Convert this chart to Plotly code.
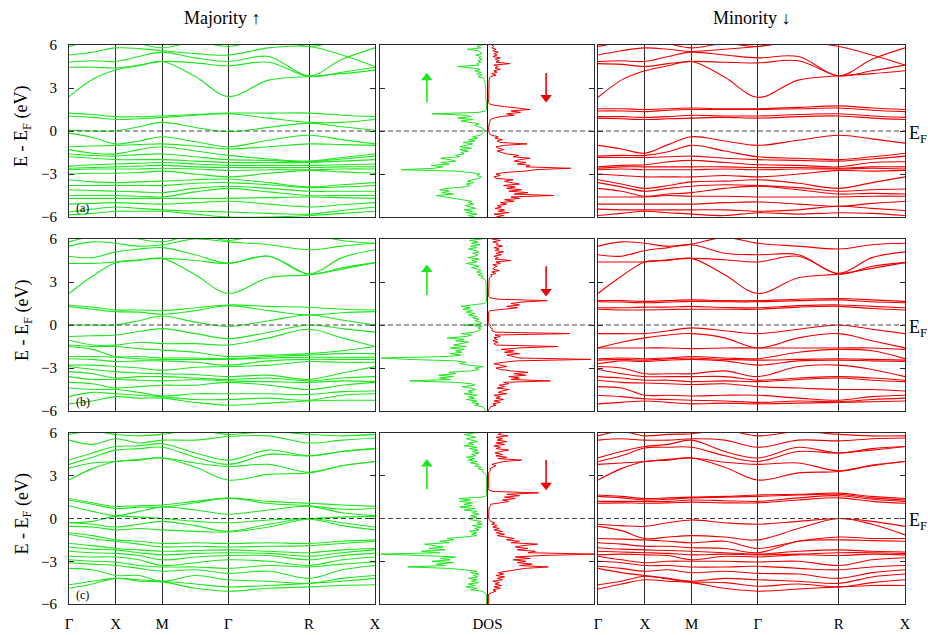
import numpy as np
import plotly.graph_objects as go

# ---------------- data ----------------
k_pos = [0.0, 0.25, 0.5, 0.75, 1.0, 1.354, 1.707, 2.140, 2.573, 2.927, 3.280]
k_sym_pos = [0.0, 0.5, 1.0, 1.707, 2.573, 3.280]
k_sym_labels = ["Γ", "X", "M", "Γ", "R", "X"]
energy_ticks = [-6, -3, 0, 3, 6]
dos_energy = np.round(np.arange(-6.0, 6.0001, 0.1), 1)

# bands: values at [Γ, ½, X, ½, M, ½, Γ, ½, R, ½, X]
maj_a = [
    [2.40, 3.60, 4.25, 4.55, 4.85, 3.80, 2.40, 3.55, 3.80, 4.00, 4.25],
    [4.45, 4.45, 4.40, 4.60, 4.85, 4.75, 4.55, 4.80, 3.80, 4.10, 4.45],
    [4.80, 4.90, 4.85, 5.20, 5.50, 5.10, 4.85, 5.20, 3.85, 5.00, 5.80],
    [5.30, 5.50, 5.80, 5.75, 5.60, 5.40, 5.30, 5.80, 5.90, 5.30, 4.50],
    [5.90, 6.30, 6.50, 6.10, 5.80, 6.20, 5.90, 6.40, 5.90, 6.30, 6.50],
    [1.25, 1.15, 1.00, 1.00, 1.05, 1.15, 1.25, 1.25, 1.25, 1.10, 1.00],
    [1.05, 0.95, 0.80, 0.85, 0.95, 1.10, 1.20, 0.90, 0.60, 0.60, 0.80],
    [0.05, 0.00, 0.00, 0.30, 0.60, 0.25, -0.05, 0.25, 0.55, 0.30, 0.05],
    [-0.15, -0.45, -0.90, -0.70, -0.40, -0.75, -1.10, -0.65, -0.30, -0.60, -0.90],
    [-1.10, -1.05, -1.00, -0.95, -0.90, -1.05, -1.25, -1.10, -0.90, -0.95, -1.00],
    [-1.30, -1.55, -1.60, -1.30, -1.10, -1.40, -1.70, -1.95, -2.10, -1.85, -1.60],
    [-1.60, -1.70, -1.75, -1.65, -1.60, -1.80, -2.00, -2.05, -2.15, -1.95, -1.75],
    [-1.80, -1.90, -2.00, -2.00, -2.00, -2.10, -2.20, -2.20, -2.20, -2.10, -2.00],
    [-2.45, -2.35, -2.30, -2.25, -2.20, -2.30, -2.40, -2.40, -2.40, -2.35, -2.30],
    [-2.60, -2.55, -2.50, -2.45, -2.40, -2.50, -2.55, -2.55, -2.55, -2.50, -2.50],
    [-2.70, -2.65, -2.65, -2.65, -2.60, -2.65, -2.75, -2.70, -2.70, -2.65, -2.65],
    [-3.00, -2.95, -2.95, -2.90, -2.80, -3.00, -3.20, -2.95, -2.75, -2.85, -2.95],
    [-3.40, -3.55, -3.60, -3.55, -3.50, -3.40, -3.35, -3.60, -3.90, -3.75, -3.60],
    [-3.80, -3.80, -3.80, -3.80, -3.80, -3.65, -3.60, -3.75, -3.95, -3.90, -3.80],
    [-4.10, -4.15, -4.20, -4.25, -4.30, -4.00, -3.85, -4.00, -4.20, -4.20, -4.20],
    [-4.50, -4.50, -4.50, -4.55, -4.60, -4.25, -4.00, -4.25, -4.50, -4.50, -4.50],
    [-4.70, -4.70, -4.70, -4.70, -4.70, -4.70, -4.70, -4.65, -4.60, -4.65, -4.70],
    [-5.10, -5.05, -5.00, -5.05, -5.10, -5.00, -4.90, -5.10, -5.30, -5.15, -5.00],
    [-5.65, -5.45, -5.30, -5.40, -5.50, -5.60, -5.65, -5.75, -5.80, -5.55, -5.30],
    [-5.85, -5.75, -5.60, -5.60, -5.60, -5.80, -6.00, -6.00, -5.90, -5.75, -5.60],
]

min_a = [
    [2.35, 3.55, 4.20, 4.55, 4.85, 3.75, 2.35, 3.55, 3.85, 4.00, 4.20],
    [4.70, 4.65, 4.50, 4.70, 4.85, 4.80, 4.75, 4.90, 3.85, 4.20, 4.60],
    [4.85, 4.90, 4.85, 5.20, 5.50, 5.30, 5.10, 5.20, 3.85, 5.00, 5.80],
    [5.30, 5.60, 5.80, 5.70, 5.55, 5.70, 5.90, 6.20, 5.90, 5.30, 4.60],
    [5.90, 6.20, 6.50, 6.10, 5.80, 6.10, 5.90, 6.40, 6.20, 6.30, 6.50],
    [1.55, 1.55, 1.50, 1.55, 1.60, 1.55, 1.55, 1.65, 1.75, 1.60, 1.50],
    [1.40, 1.40, 1.35, 1.45, 1.50, 1.50, 1.50, 1.55, 1.60, 1.45, 1.35],
    [1.00, 1.00, 0.95, 1.00, 1.10, 1.05, 1.05, 1.15, 1.20, 1.05, 0.95],
    [0.90, 0.85, 0.80, 0.85, 0.90, 0.95, 0.90, 1.00, 1.05, 0.90, 0.80],
    [-1.00, -1.25, -1.55, -0.95, -0.40, -0.70, -1.00, -0.65, -0.30, -0.55, -0.85],
    [-1.75, -1.70, -1.70, -1.45, -1.00, -1.40, -1.80, -1.90, -2.00, -1.80, -1.55],
    [-1.85, -1.85, -1.85, -1.80, -1.75, -1.90, -2.00, -2.05, -2.10, -1.95, -1.75],
    [-2.50, -2.40, -2.35, -2.15, -2.05, -2.20, -2.35, -2.40, -2.50, -2.20, -2.15],
    [-2.60, -2.50, -2.50, -2.50, -2.50, -2.50, -2.55, -2.55, -2.60, -2.50, -2.50],
    [-2.70, -2.65, -2.70, -2.70, -2.70, -2.65, -2.70, -2.65, -2.65, -2.60, -2.65],
    [-3.00, -3.10, -3.20, -3.20, -3.20, -3.10, -3.20, -3.00, -2.75, -2.80, -2.75],
    [-3.40, -3.70, -4.00, -3.80, -3.55, -3.50, -3.40, -3.65, -4.00, -3.60, -3.20],
    [-3.60, -3.90, -4.20, -4.00, -3.85, -3.75, -3.80, -3.95, -4.20, -4.10, -4.05],
    [-4.00, -4.20, -4.55, -4.40, -4.30, -4.00, -3.85, -4.10, -4.40, -4.35, -4.40],
    [-4.60, -4.60, -4.60, -4.50, -4.55, -4.55, -4.60, -4.60, -4.60, -4.55, -4.55],
    [-5.10, -5.10, -5.10, -5.10, -5.10, -5.00, -4.95, -5.10, -5.25, -5.05, -4.90],
    [-5.45, -5.50, -5.50, -5.50, -5.50, -5.50, -5.60, -5.50, -5.25, -5.40, -5.55],
    [-5.90, -5.75, -5.60, -5.70, -5.80, -5.90, -5.70, -5.80, -5.70, -5.75, -5.90],
]

maj_b = [
    [2.20, 3.40, 4.35, 4.50, 4.65, 3.50, 2.20, 3.30, 3.50, 3.90, 4.35],
    [4.30, 4.30, 4.40, 4.55, 4.65, 4.50, 4.30, 4.80, 3.55, 4.00, 4.35],
    [4.80, 4.70, 5.10, 5.30, 5.40, 4.90, 4.30, 4.80, 3.55, 4.70, 5.25],
    [5.50, 5.80, 5.70, 5.50, 5.60, 6.00, 5.80, 5.60, 5.25, 5.50, 5.70],
    [5.80, 6.20, 6.40, 6.00, 5.80, 6.30, 5.90, 6.40, 6.30, 5.90, 5.70],
    [1.40, 1.25, 1.05, 1.05, 1.00, 1.20, 1.40, 1.30, 1.24, 1.10, 1.05],
    [1.30, 1.10, 0.93, 0.90, 0.75, 1.00, 1.35, 1.00, 0.70, 0.85, 0.93],
    [0.00, 0.00, 0.00, 0.30, 0.63, 0.20, -0.10, 0.30, 0.70, 0.35, 0.00],
    [-0.80, -0.75, -0.70, -0.45, -0.25, -0.60, -0.95, -0.50, 0.00, -0.25, -0.50],
    [-1.05, -1.40, -1.40, -1.20, -1.30, -1.30, -1.40, -0.90, -0.30, -0.90, -1.50],
    [-1.40, -1.50, -1.50, -1.65, -1.75, -1.90, -2.20, -2.10, -2.00, -1.80, -1.50],
    [-1.50, -1.70, -2.20, -2.20, -2.30, -2.30, -2.35, -2.20, -2.10, -2.00, -2.00],
    [-2.20, -2.20, -2.25, -2.35, -2.40, -2.40, -2.40, -2.30, -2.25, -2.25, -2.25],
    [-2.35, -2.40, -2.55, -2.50, -2.50, -2.60, -2.80, -2.50, -2.40, -2.40, -2.40],
    [-2.80, -2.80, -2.90, -3.00, -3.15, -2.95, -2.90, -2.80, -2.55, -2.60, -2.60],
    [-2.90, -3.10, -3.25, -3.35, -3.40, -3.45, -3.60, -3.50, -3.80, -3.35, -2.90],
    [-3.25, -3.40, -3.70, -3.60, -3.60, -3.70, -3.80, -3.70, -3.90, -3.70, -3.60],
    [-3.60, -3.80, -3.80, -3.85, -3.90, -3.80, -3.90, -3.95, -4.00, -3.90, -3.95],
    [-4.00, -4.10, -4.40, -4.30, -4.20, -4.20, -4.00, -4.20, -4.50, -4.20, -4.00],
    [-4.40, -4.50, -4.50, -4.70, -4.95, -4.80, -4.80, -4.80, -4.85, -4.65, -4.60],
    [-5.00, -4.70, -4.80, -4.90, -5.00, -5.20, -5.20, -5.10, -5.25, -4.90, -4.80],
    [-5.50, -5.30, -5.00, -5.10, -5.10, -5.40, -5.60, -5.45, -5.30, -5.25, -5.25],
]

min_b = [
    [2.20, 3.40, 4.40, 4.50, 4.65, 3.50, 2.20, 3.30, 3.55, 3.95, 4.35],
    [4.40, 4.40, 4.40, 4.55, 4.65, 4.55, 4.40, 4.80, 3.55, 4.10, 4.35],
    [4.90, 4.80, 5.20, 5.40, 5.60, 5.00, 4.90, 4.90, 3.60, 4.70, 5.10],
    [5.50, 5.80, 5.70, 5.50, 5.65, 6.10, 5.70, 5.50, 5.30, 5.60, 5.70],
    [1.70, 1.70, 1.65, 1.70, 1.75, 1.70, 1.70, 1.80, 1.85, 1.75, 1.65],
    [1.62, 1.60, 1.55, 1.60, 1.65, 1.62, 1.62, 1.70, 1.75, 1.62, 1.55],
    [1.20, 1.20, 1.25, 1.25, 1.30, 1.22, 1.20, 1.35, 1.40, 1.30, 1.20],
    [1.10, 1.05, 1.05, 1.08, 1.10, 1.10, 1.10, 1.25, 1.30, 1.15, 1.05],
    [-0.60, -0.60, -0.60, -0.40, -0.20, -0.40, -0.60, -0.30, 0.00, -0.30, -0.60],
    [-1.60, -1.20, -0.90, -0.70, -0.60, -0.90, -1.60, -0.90, -0.60, -1.10, -1.60],
    [-1.60, -1.60, -1.60, -1.60, -1.65, -1.60, -1.60, -1.60, -1.60, -1.60, -1.70],
    [-2.35, -2.30, -2.35, -2.30, -2.20, -2.30, -2.35, -1.90, -1.70, -1.80, -2.35],
    [-2.45, -2.40, -2.45, -2.35, -2.30, -2.40, -2.45, -2.40, -2.35, -2.40, -2.45],
    [-2.70, -2.50, -2.55, -2.45, -2.40, -2.50, -2.80, -2.50, -2.45, -2.50, -2.55],
    [-2.90, -3.00, -3.40, -3.40, -3.40, -3.20, -3.60, -2.90, -2.80, -3.10, -3.60],
    [-3.10, -3.40, -3.60, -3.60, -3.60, -3.60, -3.85, -3.70, -3.60, -3.70, -3.85],
    [-3.60, -3.70, -3.85, -3.85, -3.95, -3.90, -3.95, -3.80, -3.70, -3.85, -3.95],
    [-3.85, -4.00, -4.05, -4.10, -4.15, -4.10, -4.30, -4.40, -4.50, -4.50, -4.60],
    [-4.30, -4.40, -4.90, -4.90, -4.95, -4.90, -4.90, -5.10, -5.25, -5.00, -4.90],
    [-4.90, -5.00, -5.15, -5.20, -5.25, -5.30, -5.40, -5.30, -5.35, -5.20, -5.10],
    [-5.50, -5.40, -5.30, -5.40, -5.50, -5.45, -5.50, -5.45, -5.40, -5.35, -5.30],
]

maj_c = [
    [2.70, 3.50, 4.00, 4.10, 4.25, 3.60, 2.70, 3.10, 3.20, 3.70, 4.00],
    [3.55, 3.90, 4.00, 4.15, 4.25, 3.90, 3.65, 3.80, 3.25, 3.70, 4.00],
    [3.80, 4.30, 4.80, 4.90, 5.00, 4.30, 3.80, 4.50, 4.40, 4.70, 4.90],
    [4.10, 4.60, 5.05, 5.10, 5.25, 4.60, 4.10, 4.80, 4.40, 4.70, 4.90],
    [5.50, 5.20, 5.60, 5.30, 5.50, 5.50, 5.75, 5.80, 5.30, 5.50, 5.65],
    [5.90, 6.10, 5.90, 5.80, 5.90, 6.20, 5.90, 6.10, 5.90, 5.80, 5.90],
    [1.40, 1.10, 0.85, 0.90, 0.95, 1.20, 1.43, 1.20, 1.07, 0.95, 0.85],
    [1.30, 1.00, 0.70, 0.80, 0.80, 1.10, 1.43, 1.05, 0.90, 0.65, 0.70],
    [0.90, 0.50, 0.20, 0.50, 0.80, 0.60, 0.30, 0.60, 0.85, 0.40, 0.20],
    [-0.30, -0.20, 0.15, 0.10, 0.00, -0.20, -0.30, -0.10, 0.00, 0.10, 0.15],
    [-0.30, -0.40, -0.60, -0.40, -0.20, -0.50, -0.90, -0.40, 0.00, -0.30, -0.60],
    [-0.55, -0.60, -0.80, -0.70, -0.80, -0.90, -0.95, -0.60, -0.05, -0.50, -0.80],
    [-1.00, -1.20, -1.50, -1.60, -1.75, -1.70, -1.75, -1.70, -1.75, -1.60, -1.50],
    [-1.10, -1.40, -1.60, -1.80, -2.00, -1.95, -2.00, -1.95, -1.90, -1.75, -1.60],
    [-1.75, -1.90, -2.10, -2.20, -2.30, -2.25, -2.20, -2.30, -2.40, -2.20, -2.10],
    [-2.00, -2.15, -2.20, -2.40, -2.55, -2.45, -2.40, -2.45, -2.65, -2.40, -2.20],
    [-2.30, -2.40, -2.45, -2.60, -2.90, -2.70, -2.60, -2.60, -2.90, -2.60, -2.45],
    [-2.65, -2.70, -2.70, -2.90, -3.30, -3.10, -2.90, -3.00, -3.30, -2.90, -2.70],
    [-2.90, -3.00, -3.05, -3.30, -3.40, -3.40, -3.50, -3.30, -3.40, -3.20, -3.05],
    [-3.10, -3.20, -3.30, -3.50, -3.70, -3.60, -3.85, -3.70, -4.20, -3.60, -3.30],
    [-3.50, -3.60, -4.00, -4.00, -4.40, -4.00, -4.30, -4.40, -4.55, -4.20, -4.00],
    [-4.65, -4.40, -4.20, -4.30, -4.40, -4.60, -4.80, -4.70, -4.55, -4.40, -4.20],
    [-4.90, -4.60, -4.20, -4.40, -4.45, -4.90, -5.10, -4.90, -4.80, -4.70, -4.65],
]

min_c = [
    [2.70, 3.50, 4.00, 4.10, 4.25, 3.60, 2.70, 3.20, 3.30, 3.70, 4.00],
    [3.80, 3.90, 4.00, 4.15, 4.25, 3.95, 3.80, 3.90, 3.35, 3.75, 4.00],
    [4.00, 4.40, 4.95, 5.00, 5.00, 4.40, 4.00, 4.70, 4.60, 4.80, 5.05],
    [4.25, 4.70, 5.05, 5.20, 5.50, 4.70, 4.25, 5.00, 4.60, 4.90, 5.05],
    [5.50, 5.60, 5.50, 5.50, 5.60, 5.50, 5.00, 5.50, 5.45, 5.60, 5.65],
    [5.80, 6.10, 5.80, 5.90, 5.95, 6.20, 5.80, 6.10, 5.90, 5.80, 5.80],
    [1.65, 1.55, 1.40, 1.45, 1.50, 1.55, 1.65, 1.70, 1.78, 1.55, 1.40],
    [1.55, 1.45, 1.30, 1.35, 1.45, 1.50, 1.55, 1.65, 1.70, 1.45, 1.30],
    [1.20, 1.20, 1.20, 1.20, 1.30, 1.25, 1.20, 1.45, 1.60, 1.35, 1.20],
    [1.07, 1.10, 1.07, 1.10, 1.15, 1.10, 1.10, 1.30, 1.45, 1.20, 1.07],
    [-0.40, -0.50, -0.55, -0.30, -0.10, -0.30, -0.40, -0.20, 0.00, -0.20, -0.55],
    [-0.55, -0.85, -1.40, -1.30, -1.20, -1.30, -1.50, -0.70, 0.00, -0.40, -1.15],
    [-1.40, -1.45, -1.50, -1.60, -1.70, -1.60, -2.10, -1.60, -1.30, -1.40, -1.40],
    [-1.70, -1.80, -1.95, -1.95, -2.05, -2.10, -2.40, -1.60, -1.50, -1.55, -1.60],
    [-2.05, -2.15, -2.20, -2.25, -2.30, -2.40, -2.50, -2.30, -2.20, -2.30, -2.35],
    [-2.30, -2.35, -2.40, -2.45, -2.55, -2.50, -2.55, -2.50, -2.40, -2.40, -2.45],
    [-2.55, -2.50, -2.55, -2.60, -2.90, -2.65, -2.70, -2.55, -2.60, -2.50, -2.55],
    [-2.65, -2.90, -3.10, -3.00, -3.00, -3.00, -3.05, -3.00, -3.30, -2.90, -2.75],
    [-3.00, -3.10, -3.30, -3.30, -3.40, -3.40, -3.35, -3.50, -3.60, -3.40, -3.30],
    [-3.35, -3.50, -3.70, -3.60, -3.80, -3.70, -3.85, -3.90, -4.20, -3.80, -3.60],
    [-3.50, -3.80, -4.00, -4.20, -4.40, -4.20, -4.30, -4.40, -4.55, -4.10, -3.90],
    [-4.65, -4.40, -4.05, -4.25, -4.45, -4.50, -4.75, -4.60, -4.80, -4.50, -4.30],
    [-4.95, -4.60, -4.30, -4.40, -4.50, -4.90, -5.10, -4.95, -4.80, -4.70, -4.70],
]

# DOS (arbitrary units), sampled every 0.1 eV from -6 to 6
dos_up_a = [1.2, 1.8, 1.0, 2.0, 1.4, 2.2, 1.1, 1.6, 2.1, 1.3,
            1.8, 1.5, 2.5, 3.5, 4.0, 4.8, 3.2, 4.3, 3.6, 4.5,
            3.8, 2.2, 1.6, 2.0, 1.3, 1.9, 1.2, 0.8, 0.6, 1.0,
            0.7, 1.5, 3.0, 8.1, 5.0, 4.2, 5.3, 3.6, 4.4, 3.0,
            3.5, 4.4, 2.6, 3.0, 2.2, 2.5, 1.8, 2.6, 1.5, 2.6,
            2.0, 1.4, 2.3, 1.2, 1.8, 0.9, 1.4, 0.7, 0.5, 0.4,
            0.6, 0.3, 0.5, 0.9, 1.2, 0.8, 1.6, 2.5, 1.4, 2.8,
            1.6, 2.0, 5.2, 0.8, 0.2, 0.1, 0.1, 0.1, 0.1, 0.1,
            0.1, 0.1, 0.1, 0.15, 0.2, 0.15, 0.2, 0.15, 0.2, 0.15,
            0.2, 0.2, 0.25, 0.2, 0.3, 0.25, 0.3, 0.4, 0.9, 0.5,
            1.0, 0.6, 1.2, 0.7, 1.5, 2.8, 0.8, 1.0, 0.6, 0.9,
            0.5, 0.8, 0.6, 1.1, 0.5, 0.7, 0.9, 1.9, 0.6, 1.0,
            0.5]
dos_dn_a = [0.8, 1.5, 0.6, 2.0, 1.0, 1.6, 0.7, 1.3, 0.9, 1.8,
            1.2, 2.5, 1.6, 3.0, 2.2, 6.2, 2.5, 3.8, 2.0, 3.2,
            1.8, 2.6, 1.5, 3.0, 2.2, 1.6, 2.4, 0.8, 0.6, 1.2,
            0.8, 1.5, 3.5, 4.5, 7.8, 3.6, 4.0, 2.8, 3.6, 2.5,
            3.0, 4.0, 2.4, 2.9, 1.8, 1.2, 0.9, 1.5, 1.0, 0.8,
            1.6, 3.7, 1.2, 0.9, 1.4, 0.7, 1.0, 0.4, 0.2, 0.15,
            0.1, 0.1, 0.1, 0.1, 0.1, 0.15, 0.2, 0.2, 0.25, 0.6,
            1.2, 2.5, 1.8, 3.1, 2.2, 4.0, 2.5, 1.6, 0.6, 0.15,
            0.1, 0.1, 0.1, 0.1, 0.1, 0.1, 0.1, 0.1, 0.1, 0.1,
            0.1, 0.1, 0.1, 0.1, 0.1, 0.1, 0.15, 0.2, 0.3, 0.8,
            0.4, 0.9, 0.6, 1.2, 0.7, 1.0, 0.6, 2.1, 0.8, 1.1,
            0.7, 1.2, 0.5, 0.9, 0.6, 1.0, 0.5, 0.8, 0.4, 0.6,
            0.4]
dos_up_b = [0.2, 0.3, 0.3, 0.5, 1.2, 0.8, 1.5, 1.0, 2.0, 1.2,
            1.8, 1.0, 2.2, 1.4, 1.8, 1.1, 1.6, 2.4, 1.2, 1.5,
            3.0, 7.3, 3.5, 4.5, 3.2, 4.6, 3.0, 3.6, 1.5, 0.8,
            1.2, 0.4, 1.8, 2.6, 2.0, 3.0, 7.5, 10.0, 3.8, 2.5,
            3.5, 2.4, 3.0, 2.2, 3.5, 2.0, 3.2, 2.4, 1.8, 3.0,
            2.2, 3.8, 2.0, 1.5, 2.5, 1.2, 0.8, 0.6, 0.9, 0.5,
            2.2, 0.5, 0.7, 1.2, 0.8, 1.4, 1.0, 1.8, 1.2, 2.0,
            1.4, 2.3, 1.6, 2.5, 1.5, 0.3, 0.1, 0.1, 0.1, 0.1,
            0.1, 0.1, 0.1, 0.1, 0.1, 0.1, 0.1, 0.1, 0.1, 0.1,
            0.15, 0.2, 0.3, 0.6, 0.4, 0.9, 0.5, 1.0, 0.6, 0.9,
            1.5, 0.8, 1.3, 2.0, 1.0, 1.5, 0.8, 1.8, 1.2, 0.9,
            1.4, 0.8, 1.2, 1.8, 1.0, 1.6, 0.7, 1.5, 0.9, 1.7,
            0.5]
dos_dn_b = [0.1, 0.1, 0.2, 0.3, 0.8, 0.5, 1.2, 0.6, 1.5, 0.8,
            1.2, 0.6, 1.8, 1.0, 1.4, 2.0, 0.9, 1.6, 1.1, 2.0,
            1.5, 5.9, 2.2, 3.0, 2.0, 3.6, 2.5, 3.8, 2.2, 1.2,
            0.8, 1.8, 1.2, 0.6, 1.5, 2.8, 9.7, 3.0, 2.4, 1.8,
            3.0, 1.6, 2.5, 1.3, 3.0, 6.6, 0.8, 0.6, 1.0, 0.5,
            0.9, 0.6, 1.2, 0.7, 7.7, 0.8, 0.4, 0.5, 0.3, 0.2,
            0.3, 0.1, 0.1, 0.1, 0.1, 0.1, 0.1, 0.1, 0.1, 0.1,
            0.2, 1.5, 2.8, 1.8, 3.0, 2.2, 3.2, 5.6, 1.0, 0.2,
            0.1, 0.1, 0.1, 0.1, 0.1, 0.1, 0.1, 0.1, 0.1, 0.1,
            0.1, 0.1, 0.15, 0.2, 0.4, 0.3, 0.8, 0.4, 1.1, 0.5,
            0.6, 0.9, 0.5, 1.2, 0.8, 2.2, 0.7, 1.0, 0.6, 1.3,
            0.8, 1.5, 0.7, 1.1, 0.6, 1.4, 0.8, 1.0, 0.5, 1.2,
            0.4]
dos_up_c = [0.1, 0.1, 0.1, 0.1, 0.1, 0.1, 0.1, 0.1, 0.3, 0.5,
            1.6, 1.0, 2.0, 1.2, 1.8, 0.8, 1.5, 1.0, 1.8, 0.9,
            1.3, 0.8, 1.6, 1.0, 2.2, 3.6, 7.5, 4.0, 4.8, 3.2,
            5.2, 3.5, 4.4, 3.0, 6.0, 10.0, 4.5, 6.2, 4.0, 5.5,
            4.2, 5.0, 5.9, 3.6, 4.5, 3.2, 3.8, 2.2, 1.0, 1.5,
            1.0, 1.7, 0.8, 1.2, 0.6, 1.4, 0.5, 1.0, 0.6, 1.5,
            1.8, 1.0, 1.6, 0.8, 1.4, 1.0, 2.2, 1.2, 2.6, 1.5,
            2.2, 1.4, 2.6, 1.6, 2.7, 0.5, 0.1, 0.1, 0.1, 0.1,
            0.1, 0.1, 0.1, 0.1, 0.1, 0.1, 0.1, 0.1, 0.1, 0.1,
            0.1, 0.2, 0.3, 0.5, 0.4, 0.9, 0.6, 1.2, 0.8, 1.6,
            1.0, 1.8, 1.2, 2.0, 1.1, 1.5, 0.8, 1.4, 0.9, 1.7,
            1.0, 2.2, 1.3, 1.8, 0.9, 1.5, 2.0, 1.1, 1.6, 2.2,
            1.2]
dos_dn_c = [0.1, 0.1, 0.1, 0.1, 0.1, 0.1, 0.1, 0.1, 0.4, 0.8,
            0.5, 1.2, 0.6, 1.3, 0.7, 1.1, 0.5, 1.4, 0.9, 1.6,
            0.8, 1.5, 1.0, 2.0, 2.6, 3.5, 5.7, 3.0, 4.2, 2.8,
            3.6, 2.4, 4.0, 2.6, 5.0, 10.0, 3.8, 4.5, 2.8, 3.8,
            2.6, 3.3, 4.7, 2.2, 3.0, 1.8, 2.5, 1.5, 0.9, 1.6,
            0.8, 1.4, 0.6, 1.1, 0.5, 0.9, 0.4, 0.7, 0.3, 0.2,
            0.1, 0.1, 0.1, 0.1, 0.1, 0.1, 0.1, 0.1, 0.15, 0.3,
            0.3, 1.2, 2.0, 1.4, 2.6, 1.6, 3.0, 1.8, 4.8, 0.5,
            0.1, 0.1, 0.1, 0.1, 0.1, 0.1, 0.1, 0.1, 0.1, 0.1,
            0.1, 0.1, 0.1, 0.2, 0.3, 0.2, 0.5, 0.8, 0.4, 1.0,
            1.5, 3.2, 1.0, 1.8, 0.8, 1.4, 0.7, 1.2, 2.0, 0.8,
            1.2, 0.6, 1.6, 0.8, 1.8, 0.9, 1.4, 0.8, 1.9, 1.0,
            1.3]

panel_labels = ["(a)", "(b)", "(c)"]

# ---------------- styling / layout ----------------
GREEN = "#1ee61e"
RED = "#f00000"
FRAME = "#2a2a2a"
FONT = "Liberation Serif, Times New Roman, DejaVu Serif, serif"
W, H = 928, 635

col_px = [(69, 375), (380, 594), (598, 905)]
row_px = [(45, 217), (239, 411), (433, 604)]
arrow_tip_tail = [(4.05, 2.0), (4.2, 2.1), (4.15, 2.05)]   # green (up) arrow: tip, tail [eV]
arrow_red = [(4.05, 2.0), (4.1, 2.0), (4.1, 2.0)]           # red (down) arrow: tail, tip [eV]

fig = go.Figure()
layout = dict(template="none", width=W, height=H, margin=dict(l=0, r=0, t=0, b=0, autoexpand=False),
              paper_bgcolor="white", plot_bgcolor="white",
              font=dict(family=FONT, size=16, color="black"), showlegend=False)
annotations = []
shapes = []

band_sets = [(maj_a, min_a), (maj_b, min_b), (maj_c, min_c)]
dos_sets = [(dos_up_a, dos_dn_a), (dos_up_b, dos_dn_b), (dos_up_c, dos_dn_c)]

for r in range(3):
    y0p, y1p = row_px[r]
    ydom = [1 - y1p / H, 1 - y0p / H]
    for c in range(3):
        n = 3 * r + c + 1
        sfx = "" if n == 1 else str(n)
        x0p, x1p = col_px[c]
        xdom = [x0p / W, x1p / W]
        xa = dict(domain=xdom, anchor="y" + sfx, showline=True, mirror=True,
                  linecolor=FRAME, linewidth=1, zeroline=False, fixedrange=True,
                  automargin=False, ticklabelstandoff=6,
                  tickfont=dict(family=FONT, size=15, color="black"))
        ya = dict(domain=ydom, anchor="x" + sfx, range=[-6, 6], tickvals=energy_ticks,
                  showline=True, mirror="ticks", linecolor=FRAME, linewidth=1,
                  ticks="inside", ticklen=5, tickcolor=FRAME, tickwidth=1, showgrid=False,
                  zeroline=False, showticklabels=(c == 0), automargin=False,
                  ticklabelstandoff=8, fixedrange=True,
                  tickfont=dict(family=FONT, size=15, color="black"))
        if c != 1:
            xa.update(range=[0, k_sym_pos[-1]], tickvals=k_sym_pos, ticktext=k_sym_labels,
                      showgrid=True, gridcolor=FRAME, gridwidth=1, ticks="",
                      showticklabels=(r == 2))
            bands = band_sets[r][0 if c == 0 else 1]
            color = GREEN if c == 0 else RED
            for b in bands:
                fig.add_trace(go.Scatter(x=k_pos, y=b, mode="lines",
                                         line=dict(color=color, width=1.1, shape="spline", smoothing=1.0),
                                         xaxis="x" + sfx, yaxis="y" + sfx, hoverinfo="skip"))
        else:
            xa.update(range=[-10.1, 10.0], showgrid=False, ticks="",
                      zeroline=True, zerolinecolor="#111111", zerolinewidth=1.3,
                      tickvals=[0], ticktext=["DOS"], showticklabels=(r == 2))
            up, dn = dos_sets[r]
            fig.add_trace(go.Scatter(x=[-v for v in up], y=dos_energy, mode="lines",
                                     line=dict(color=GREEN, width=1),
                                     xaxis="x" + sfx, yaxis="y" + sfx, hoverinfo="skip"))
            fig.add_trace(go.Scatter(x=dn, y=dos_energy, mode="lines",
                                     line=dict(color=RED, width=1),
                                     xaxis="x" + sfx, yaxis="y" + sfx, hoverinfo="skip"))
            # spin arrows (shaft + triangular head)
            tip, tail = arrow_tip_tail[r]
            fig.add_trace(go.Scatter(x=[-5.7, -5.7], y=[tail, tip - 0.5], mode="lines",
                                     line=dict(color=GREEN, width=1.6),
                                     xaxis="x" + sfx, yaxis="y" + sfx, hoverinfo="skip"))
            fig.add_trace(go.Scatter(x=[-5.7], y=[tip - 0.33], mode="markers",
                                     marker=dict(symbol="triangle-up", size=10, color=GREEN),
                                     xaxis="x" + sfx, yaxis="y" + sfx, hoverinfo="skip"))
            rtail, rtip = arrow_red[r]
            fig.add_trace(go.Scatter(x=[5.5, 5.5], y=[rtail, rtip + 0.5], mode="lines",
                                     line=dict(color=RED, width=1.6),
                                     xaxis="x" + sfx, yaxis="y" + sfx, hoverinfo="skip"))
            fig.add_trace(go.Scatter(x=[5.5], y=[rtip + 0.33], mode="markers",
                                     marker=dict(symbol="triangle-down", size=10, color=RED),
                                     xaxis="x" + sfx, yaxis="y" + sfx, hoverinfo="skip"))
        layout["xaxis" + sfx] = xa
        layout["yaxis" + sfx] = ya
        # Fermi level
        shapes.append(dict(type="line", xref="x" + sfx + " domain", yref="y" + sfx,
                           x0=0, x1=1, y0=0, y1=0,
                           line=dict(color="#444444", width=1, dash="5px,3px")))
        if c == 0:
            annotations.append(dict(x=0.05, y=-5.35, xref="x" + sfx, yref="y" + sfx,
                                    text=panel_labels[r], showarrow=False,
                                    xanchor="left", yanchor="middle",
                                    font=dict(family=FONT, size=12)))
        if c == 2:
            annotations.append(dict(x=1, y=0, xref="x" + sfx + " domain", yref="y" + sfx,
                                    text="E<sub>F</sub>", showarrow=False,
                                    xanchor="left", yanchor="middle", xshift=2, yshift=-3,
                                    font=dict(family=FONT, size=18)))
    ymid = 1 - ((y0p + y1p) / 2 - 4) / H
    annotations.append(dict(x=23 / W, y=ymid, xref="paper", yref="paper",
                            text="E - E<sub>F</sub> (eV)", textangle=-90, showarrow=False,
                            xanchor="center", yanchor="middle",
                            font=dict(family=FONT, size=18)))

annotations.append(dict(x=222 / W, y=1 - 18 / H, xref="paper", yref="paper",
                        text="Majority ↑", showarrow=False, xanchor="center", yanchor="middle",
                        font=dict(family=FONT, size=18)))
annotations.append(dict(x=752 / W, y=1 - 18 / H, xref="paper", yref="paper",
                        text="Minority ↓", showarrow=False, xanchor="center", yanchor="middle",
                        font=dict(family=FONT, size=18)))

layout["annotations"] = annotations
layout["shapes"] = shapes
fig.update_layout(**layout)
fig.write_html("out.html")
